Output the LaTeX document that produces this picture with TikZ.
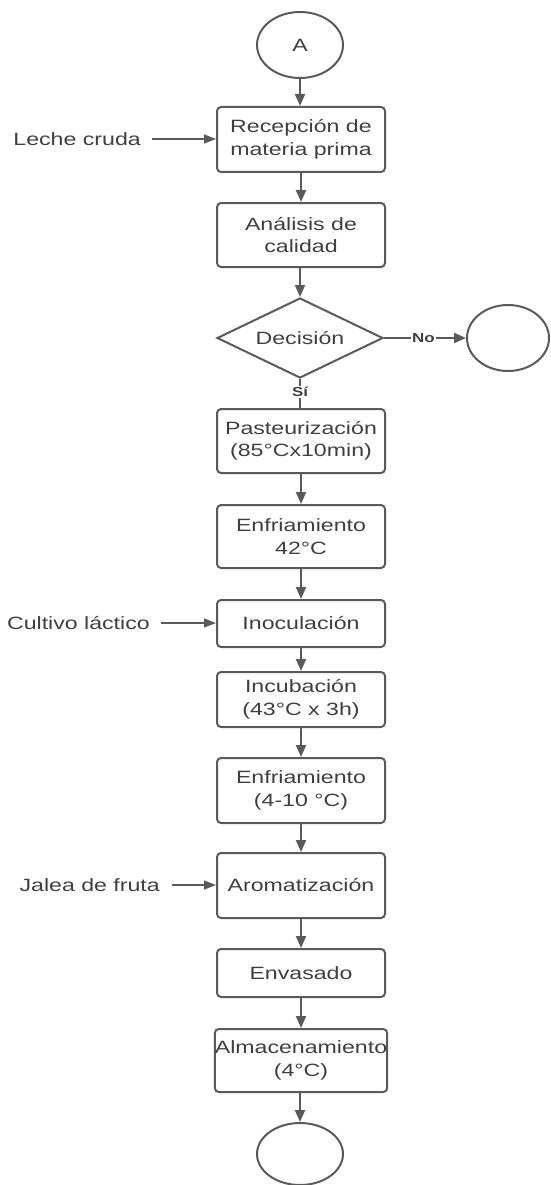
\documentclass[tikz,border=0pt]{standalone}
\usepackage{fontspec}
\setmainfont[FakeStretch=1.3]{Liberation Sans}
\usetikzlibrary{shapes.geometric,arrows.meta}
\definecolor{linec}{HTML}{5A5A5A}
\definecolor{textc}{HTML}{3F3F3F}
\begin{document}
\begin{tikzpicture}[x=1pt,y=-1pt,
  every node/.style={text=textc},
  bigtxt/.style={font=\fontsize{17.8}{22.5}\selectfont},
  proc/.style={draw=linec, line width=2pt, rounded corners=4pt, minimum width=168pt, inner sep=0pt, align=center, bigtxt},
  term/.style={draw=linec, line width=2pt, ellipse, inner sep=0pt, minimum width=86pt, minimum height=66pt, bigtxt},
  decis/.style={draw=linec, line width=2pt, diamond, aspect=2.07, inner sep=0pt, minimum width=166pt, minimum height=80pt, bigtxt},
  inlab/.style={anchor=east, bigtxt, inner sep=0pt},
  smalllab/.style={font=\fontsize{13}{15}\selectfont\bfseries, fill=white, inner sep=1pt},
  flow/.style={draw=linec, line width=2pt, -{Triangle[length=12pt,width=10pt]}},
  plain/.style={draw=linec, line width=2pt},
  feed/.style={draw=linec, line width=1.4pt, -{Triangle[length=12pt,width=9pt]}}
]
\useasboundingbox (0,0) rectangle (550,1185);
\node[term] (A) at (300,45) {A};
\node[proc, minimum height=65pt] (rec) at (301,139.5) {Recepción de\\materia prima};
\node[proc, minimum height=64pt] (ana) at (301,235) {Análisis de\\calidad};
\node[decis] (dec) at (300,338) {Decisión};
\node[term, minimum width=82pt] (no) at (508,338) {};
\node[proc, minimum height=64pt] (pas) at (301,441) {Pasteurización\\(85°Cx10min)};
\node[proc, minimum height=63pt] (enf1) at (301,536.5) {Enfriamiento\\42°C};
\node[proc, minimum height=47pt] (ino) at (301,623.5) {Inoculación};
\node[proc, minimum height=55pt] (inc) at (301,699.5) {Incubación\\(43°C x 3h)};
\node[proc, minimum height=65pt] (enf2) at (301,790.5) {Enfriamiento\\(4-10 °C)};
\node[proc, minimum height=65pt] (aro) at (301,885.5) {Aromatización};
\node[proc, minimum height=48pt] (env) at (301,973) {Envasado};
\node[proc, minimum height=63pt] (alm) at (301,1060.5) {Almacenamiento\\(4°C)};
\node[term, minimum height=62pt] (fin) at (300,1154) {};

\node[inlab] (leche) at (141,139) {Leche cruda};
\node[inlab] (cult) at (150,623) {Cultivo láctico};
\node[inlab] (jalea) at (160,885) {Jalea de fruta};

\draw[flow] (A) -- (A |- rec.north);
\draw[flow] (rec) -- (rec.south |- ana.north);
\draw[flow] (ana.south -| dec.north) -- (dec.north);
\draw[flow] (dec) -- node[smalllab, pos=0.48] {No} (no);
\draw[plain] (dec.south) -- node[smalllab, pos=0.45] {Sí} (dec.south |- pas.north);
\draw[flow] (pas) -- (enf1);
\draw[flow] (enf1) -- (ino);
\draw[flow] (ino) -- (inc);
\draw[flow] (inc) -- (enf2);
\draw[flow] (enf2) -- (aro);
\draw[flow] (aro) -- (env);
\draw[flow] (env) -- (alm);
\draw[flow] (alm.south -| fin.north) -- (fin.north);

\draw[feed] ([xshift=11pt]leche.east) -- (leche.east -| rec.west);
\draw[feed] ([xshift=11pt]cult.east) -- (cult.east -| ino.west);
\draw[feed] ([xshift=12pt]jalea.east) -- (jalea.east -| aro.west);
\end{tikzpicture}
\end{document}
